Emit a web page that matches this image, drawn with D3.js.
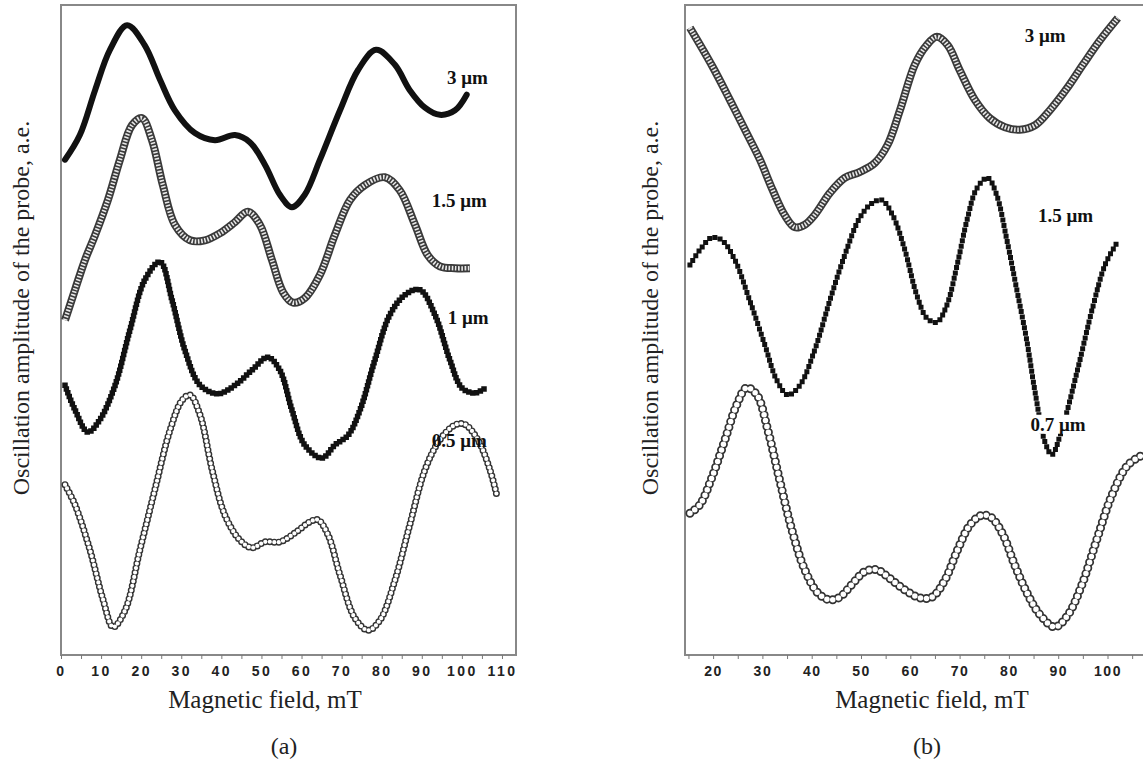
<!DOCTYPE html>
<html>
<head>
<meta charset="utf-8">
<script src="https://cdn.jsdelivr.net/npm/d3@7/dist/d3.min.js"></script>
<style>
  body { margin: 0; background: #fff; }
  .tick text { font-family: "Liberation Sans", Arial, sans-serif; font-weight: bold; font-size: 14px; fill: #222; }
  .tick line { stroke: #777; }
  .axis-title { font-family: "Liberation Serif", "Times New Roman", serif; fill: #222; }
  .series-label { font-family: "Liberation Serif", "Times New Roman", serif; font-weight: bold; font-size: 19px; fill: #111; }
</style>
</head>
<body>
<div id="chart"></div>
<script>
// ---- data (field in mT, amplitude in arbitrary units 0..100) ----
// panel (a)
var fieldA3 = [1.0, 4.7, 8.5, 12.2, 16.5, 20.9, 24.7, 28.4, 33.4, 38.4, 43.4, 47.1, 50.9, 54.6, 57.6, 60.8, 64.6, 69.6, 74.1, 78.6, 83.3, 87.0, 90.8, 94.5, 98.3, 101.2];
var ampA3   = [76.2, 80.0, 86.9, 93.1, 96.9, 93.8, 88.5, 83.8, 80.3, 79.2, 80.0, 78.9, 75.4, 70.8, 68.9, 70.8, 76.2, 83.8, 90.0, 93.1, 90.8, 86.9, 84.2, 83.1, 83.8, 86.2];

var fieldA15 = [1.0, 3.5, 6.0, 8.5, 11.7, 14.7, 17.7, 20.2, 22.7, 25.4, 28.4, 32.2, 35.9, 39.7, 43.4, 46.6, 49.6, 52.6, 55.4, 57.9, 60.8, 64.6, 68.3, 72.1, 75.8, 80.8, 84.5, 88.3, 91.5, 94.5, 98.3, 102.0];
var ampA15   = [51.5, 56.2, 60.8, 64.6, 70.0, 76.2, 81.5, 82.6, 79.2, 72.3, 66.2, 63.8, 63.8, 64.9, 66.6, 68.2, 66.2, 60.8, 55.8, 54.2, 54.9, 58.5, 64.6, 70.0, 72.3, 73.5, 71.5, 66.2, 61.5, 59.8, 59.5, 59.5];

var fieldA1 = [1.0, 3.5, 6.7, 9.7, 13.5, 17.2, 20.9, 24.7, 27.7, 30.9, 34.7, 39.2, 43.4, 47.6, 51.6, 54.6, 57.6, 60.8, 65.1, 68.3, 71.6, 74.6, 78.3, 82.0, 85.8, 89.5, 93.3, 97.0, 100.0, 103.2, 106.2];
var ampA1   = [41.5, 37.7, 34.3, 36.2, 41.5, 50.0, 57.7, 60.5, 54.6, 46.9, 41.5, 40.2, 41.5, 43.8, 45.8, 43.8, 37.7, 32.3, 30.3, 32.3, 33.8, 37.7, 45.4, 52.3, 55.4, 56.2, 52.3, 45.4, 41.1, 40.3, 41.2];

var fieldA05 = [1.0, 3.5, 7.2, 10.5, 13.0, 16.0, 19.7, 23.4, 27.2, 30.2, 32.2, 34.7, 37.7, 40.9, 44.6, 47.6, 50.9, 54.6, 58.4, 62.1, 64.1, 66.6, 69.6, 73.3, 76.6, 79.6, 83.3, 87.0, 90.8, 94.5, 98.3, 100.7, 104.0, 107.0, 108.7];
var ampA05   = [26.2, 23.1, 16.2, 8.5, 4.3, 6.9, 16.2, 25.4, 34.6, 39.2, 40.0, 36.9, 28.5, 21.5, 17.7, 16.5, 17.4, 17.4, 18.8, 20.5, 20.8, 18.5, 12.3, 5.7, 3.8, 5.4, 11.5, 20.0, 28.5, 33.1, 35.4, 35.5, 33.1, 28.5, 24.6];

// panel (b)
var fieldB3 = [15.3, 19.9, 23.4, 26.8, 29.5, 32.1, 34.5, 36.6, 38.6, 40.6, 43.7, 46.7, 49.7, 52.8, 55.4, 57.9, 60.9, 63.3, 65.4, 67.6, 70.0, 73.1, 76.1, 79.2, 82.2, 85.3, 88.3, 91.8, 95.0, 98.5, 102.1];
var ampB3   = [96.5, 90.5, 85.4, 80.3, 76.2, 71.5, 67.7, 65.8, 66.2, 67.7, 71.1, 73.4, 74.3, 75.7, 78.5, 83.8, 90.8, 93.8, 95.1, 93.8, 90.0, 85.4, 82.6, 81.2, 80.8, 81.5, 83.8, 87.2, 90.8, 94.6, 98.0];

var fieldB15 = [15.3, 17.3, 19.7, 21.8, 24.4, 27.4, 30.5, 32.9, 35.2, 37.6, 40.6, 43.7, 46.7, 49.7, 52.2, 54.2, 56.4, 58.9, 61.3, 63.4, 65.4, 67.4, 69.5, 71.5, 73.5, 75.7, 77.5, 79.6, 81.6, 83.6, 85.3, 87.3, 88.7, 90.7, 93.9, 97.0, 99.5, 101.9];
var ampB15   = [60.0, 62.3, 64.2, 63.8, 60.8, 54.6, 47.7, 42.3, 40.0, 41.5, 46.9, 54.6, 61.5, 67.2, 69.5, 70.0, 67.7, 62.3, 55.4, 51.8, 51.2, 53.8, 60.0, 66.9, 71.8, 73.4, 70.8, 63.8, 56.2, 48.5, 40.5, 32.8, 30.8, 34.6, 43.8, 53.5, 60.0, 63.4];

var fieldB07 = [15.3, 17.3, 19.7, 22.4, 24.8, 26.8, 28.9, 31.1, 33.5, 36.0, 38.6, 41.3, 43.6, 45.7, 48.1, 50.7, 53.2, 55.8, 58.9, 61.9, 64.4, 67.0, 69.6, 72.1, 74.5, 76.5, 78.8, 81.2, 83.9, 86.3, 89.3, 92.0, 94.8, 97.8, 100.9, 104.1, 107.2];
var ampB07   = [21.8, 23.1, 27.2, 33.1, 38.5, 41.1, 40.0, 34.6, 26.9, 19.2, 13.1, 9.5, 8.5, 8.9, 10.8, 12.8, 13.1, 11.8, 10.0, 8.8, 8.9, 11.5, 16.2, 20.0, 21.5, 21.1, 18.5, 13.8, 9.2, 6.2, 4.3, 6.2, 10.8, 17.7, 24.6, 29.2, 30.8];

var ticksA = [0, 10, 20, 30, 40, 50, 60, 70, 80, 90, 100, 110];
var minorTicksA = [5, 15, 25, 35, 45, 55, 65, 75, 85, 95, 105];
var ticksB = [20, 30, 40, 50, 60, 70, 80, 90, 100];
var minorTicksB = [15, 25, 35, 45, 55, 65, 75, 85, 95, 105];

var xTitle = "Magnetic field, mT";
var yTitle = "Oscillation amplitude of the probe, a.e.";

var svgWidth = 1143;
var svgHeight = 767;

var svg = d3.select("#chart")
  .append("svg")
  .attr("width", svgWidth)
  .attr("height", svgHeight);

svg.append("rect")
  .attr("width", svgWidth)
  .attr("height", svgHeight)
  .attr("fill", "#fff");

// shared y scale (arbitrary units)
var yScale = d3.scaleLinear().domain([0, 100]).range([655, 5]);

function zip(xs, ys) {
  return xs.map(function(x, i) { return [x, ys[i]]; });
}

// plain thick line
function drawSolid(g, line, data, color, w) {
  g.append("path")
    .attr("d", line(data))
    .attr("fill", "none")
    .attr("stroke", color)
    .attr("stroke-width", w)
    .attr("stroke-linejoin", "round")
    .attr("stroke-linecap", "round");
}

// open markers: dark dots with a white centre
function drawRings(g, line, data, color, outer, inner, gap) {
  g.append("path")
    .attr("d", line(data))
    .attr("fill", "none")
    .attr("stroke", color)
    .attr("stroke-width", outer)
    .attr("stroke-linecap", "round")
    .attr("stroke-dasharray", "0 " + gap);
  g.append("path")
    .attr("d", line(data))
    .attr("fill", "none")
    .attr("stroke", "#fff")
    .attr("stroke-width", inner)
    .attr("stroke-linecap", "round")
    .attr("stroke-dasharray", "0 " + gap);
}

// dense open triangles look like a hatched band
function drawLadder(g, line, data, color, outer, inner, dash) {
  g.append("path")
    .attr("d", line(data))
    .attr("fill", "none")
    .attr("stroke", color)
    .attr("stroke-width", outer)
    .attr("stroke-linejoin", "round");
  g.append("path")
    .attr("d", line(data))
    .attr("fill", "none")
    .attr("stroke", "#e8e8e8")
    .attr("stroke-width", inner)
    .attr("stroke-dasharray", dash);
}

// filled square markers
function drawSquares(g, line, data, color, size, gap) {
  g.append("path")
    .attr("d", line(data))
    .attr("fill", "none")
    .attr("stroke", color)
    .attr("stroke-width", size)
    .attr("stroke-linecap", "square")
    .attr("stroke-dasharray", "0 " + gap);
}

function drawPanel(opts) {
  var xScale = d3.scaleLinear().domain(opts.domain).range(opts.range);
  var g = svg.append("g");

  // frame
  g.append("rect")
    .attr("x", opts.range[0])
    .attr("y", 5)
    .attr("width", opts.range[1] - opts.range[0] + opts.extraRight)
    .attr("height", 650)
    .attr("fill", "none")
    .attr("stroke", "#888")
    .attr("stroke-width", 2);

  var bottomAxis = d3.axisBottom(xScale)
    .tickValues(opts.ticks)
    .tickSize(4)
    .tickPadding(7)
    .tickFormat(d3.format("d"));

  var ax = g.append("g")
    .attr("transform", "translate(0, 655)")
    .call(bottomAxis);
  ax.select(".domain").remove();
  ax.selectAll("text").style("letter-spacing", opts.spacing + "px");

  var minorAxis = d3.axisBottom(xScale)
    .tickValues(opts.minor)
    .tickSize(4)
    .tickFormat("");
  var mx = g.append("g")
    .attr("transform", "translate(0, 655)")
    .call(minorAxis);
  mx.select(".domain").remove();

  // titles
  g.append("text")
    .attr("class", "axis-title")
    .attr("x", opts.titleX)
    .attr("y", 708)
    .attr("text-anchor", "middle")
    .style("font-size", "25px")
    .text(xTitle);

  g.append("text")
    .attr("class", "axis-title")
    .attr("transform", "translate(" + opts.yTitleX + ", 308) rotate(-90)")
    .attr("text-anchor", "middle")
    .style("font-size", "24px")
    .text(yTitle);

  g.append("text")
    .attr("class", "axis-title")
    .attr("x", opts.tagX)
    .attr("y", 754)
    .attr("text-anchor", "middle")
    .style("font-size", "24px")
    .text(opts.tag);

  var line = d3.line()
    .x(function(d) { return xScale(d[0]); })
    .y(function(d) { return yScale(d[1]); })
    .curve(d3.curveCatmullRom.alpha(0.5));

  opts.draw(g, line);

  // curve labels, some sit on a small white box
  opts.labels.forEach(function(l) {
    var box = g.append("rect").attr("fill", "#fff");
    var t = g.append("text")
      .attr("class", "series-label")
      .attr("x", xScale(l.x))
      .attr("y", yScale(l.y))
      .text(l.text);
    if (l.box) {
      var bb = t.node().getBBox();
      box.attr("x", bb.x - 2)
        .attr("y", bb.y + 1)
        .attr("width", bb.width + 4)
        .attr("height", bb.height - 2);
    } else {
      box.remove();
    }
  });
}

drawPanel({
  domain: [0, 113.5],
  range: [61, 516],
  extraRight: 0,
  ticks: ticksA,
  minor: minorTicksA,
  spacing: 2.5,
  titleX: 265,
  tagX: 284,
  yTitleX: 29,
  tag: "(a)",
  draw: function(g, line) {
    drawRings(g, line, zip(fieldA05, ampA05), "#333", 7, 4.2, 4.5);
    drawSquares(g, line, zip(fieldA1, ampA1), "#111", 5.5, 4);
    drawLadder(g, line, zip(fieldA15, ampA15), "#3a3a3a", 8, 4.5, "1.6 1.6");
    drawSolid(g, line, zip(fieldA3, ampA3), "#111", 6);
  },
  labels: [
    { text: "3 μm", x: 96.3, y: 87.8, box: true },
    { text: "1.5 μm", x: 92.5, y: 68.9, box: true },
    { text: "1 μm", x: 96.5, y: 50.9, box: true },
    { text: "0.5 μm", x: 92.5, y: 32.0, box: false }
  ]
});

drawPanel({
  domain: [14.3, 107.2],
  range: [685, 1143],
  extraRight: 10,
  ticks: ticksB,
  minor: minorTicksB,
  spacing: 1.5,
  titleX: 932,
  tagX: 927,
  yTitleX: 658,
  tag: "(b)",
  draw: function(g, line) {
    drawRings(g, line, zip(fieldB07, ampB07), "#333", 9, 5.5, 6);
    drawSquares(g, line, zip(fieldB15, ampB15), "#111", 5, 5.5);
    drawLadder(g, line, zip(fieldB3, ampB3), "#3a3a3a", 8, 4.5, "1.6 1.6");
  },
  labels: [
    { text: "3 μm", x: 83.2, y: 94.3, box: true },
    { text: "1.5 μm", x: 85.9, y: 66.6, box: true },
    { text: "0.7 μm", x: 84.4, y: 34.5, box: true }
  ]
});
</script>
</body>
</html>
